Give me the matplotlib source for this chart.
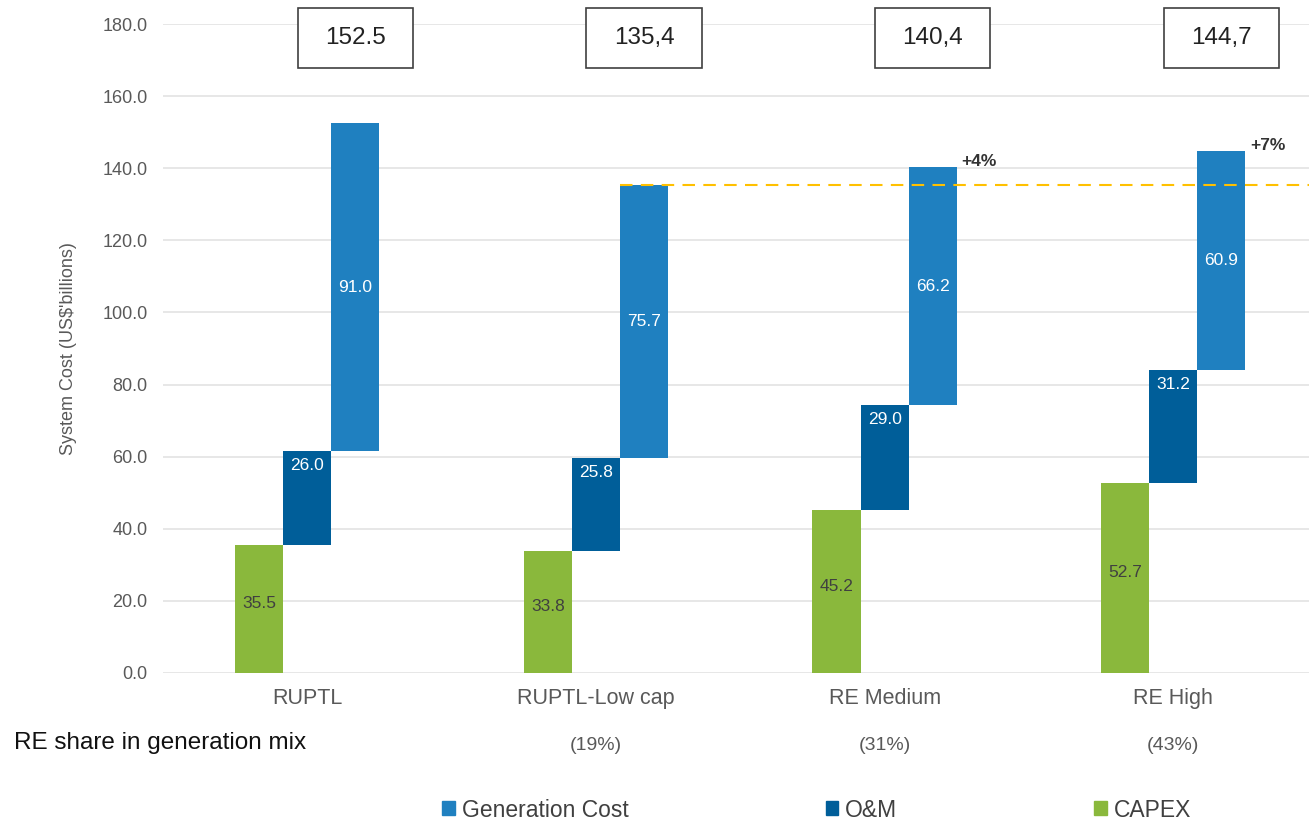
import matplotlib
matplotlib.use("Agg")
import matplotlib.pyplot as plt
from matplotlib.patches import Patch, Rectangle

scenarios = ["RUPTL", "RUPTL-Low cap", "RE Medium", "RE High"]
re_share = ["", "(19%)", "(31%)", "(43%)"]
capex = [35.5, 33.8, 45.2, 52.7]
om = [26.0, 25.8, 29.0, 31.2]
gen_cost = [91.0, 75.7, 66.2, 60.9]
totals_text = ["152.5", "135,4", "140,4", "144,7"]
pct_text = ["", "", "+4%", "+7%"]
baseline = 135.4

c_gen = "#1F80C0"
c_om = "#005E99"
c_capex = "#8AB83C"
grey = "#595959"

plt.rcParams["font.family"] = ["Liberation Sans", "DejaVu Sans"]

fig = plt.figure(figsize=(13.09, 8.22), dpi=100)
ax = fig.add_axes([0.1245, 0.1813, 0.8755, 0.7895])

w = 1 / 6
x = list(range(len(scenarios)))
for i in x:
    c, o, g = capex[i], om[i], gen_cost[i]
    ax.bar(i - w, c, width=w, color=c_capex, zorder=3)
    ax.bar(i, o, width=w, bottom=c, color=c_om, zorder=3)
    ax.bar(i + w, g, width=w, bottom=c + o, color=c_gen, zorder=3)
    ax.text(i - w, c / 2 + 1.5, f"{c:.1f}", ha="center", va="center", color="#404040", fontsize=12.5, zorder=4)
    ax.text(i, c + o - 4.0, f"{o:.1f}", ha="center", va="center", color="white", fontsize=12.5, zorder=4)
    ax.text(i + w, c + o + g / 2, f"{g:.1f}", ha="center", va="center", color="white", fontsize=12.5, zorder=4)
    total = c + o + g
    # total box above the chart
    ax.add_patch(Rectangle((i + w - 0.2, 167.8), 0.4, 16.6, fc="white", ec="#404040", lw=1.2,
                           clip_on=False, zorder=5))
    ax.text(i + w, 176.1, totals_text[i], ha="center", va="center", fontsize=17.5, color="#222222",
            clip_on=False, zorder=6)
    if pct_text[i]:
        ax.text(i + w + w / 2 + 0.015, total + 1.5, pct_text[i], ha="left", va="center", fontsize=12.5,
                color="#333333", fontweight="bold")

ax.plot([1 + w / 2, 3.6], [baseline, baseline], color="#FFC000", ls=(0, (6, 4)), lw=1.5, zorder=4)

ax.set_xlim(-0.5, 3.47)
ax.set_ylim(0, 180)
ax.set_yticks(range(0, 181, 20))
ax.set_yticklabels([f"{v:.1f}" for v in range(0, 181, 20)])
ax.set_xticks(x)
ax.set_xticklabels(scenarios)
ax.tick_params(axis="x", length=0, pad=11, labelsize=15.5, labelcolor=grey)
ax.tick_params(axis="y", length=0, pad=11, labelsize=13, labelcolor=grey)
ax.yaxis.grid(True, color="#E3E3E3", lw=1.2, zorder=0)
for s in ax.spines.values():
    s.set_visible(False)
ax.set_ylabel("System Cost (US$'billions)", fontsize=13, color=grey, labelpad=18)

fig.text(0.011, 1 - 743 / 822, "RE share in generation mix", fontsize=17.5, color="#111111", va="center")
for i in x:
    if re_share[i]:
        ax.text(i, -20, re_share[i], ha="center", va="center", fontsize=14, color=grey)

handles = [Patch(color=c_gen), Patch(color=c_om), Patch(color=c_capex)]
fig.legend(handles, ["Generation Cost", "O&M", "CAPEX"], loc="center", bbox_to_anchor=(0.624, 1 - 810 / 822),
           ncol=3, frameon=False, fontsize=16.5, labelcolor="#404040", handlelength=0.55, handleheight=0.55,
           handletextpad=0.3, columnspacing=8.6)

fig.savefig("out.png", dpi=100)
